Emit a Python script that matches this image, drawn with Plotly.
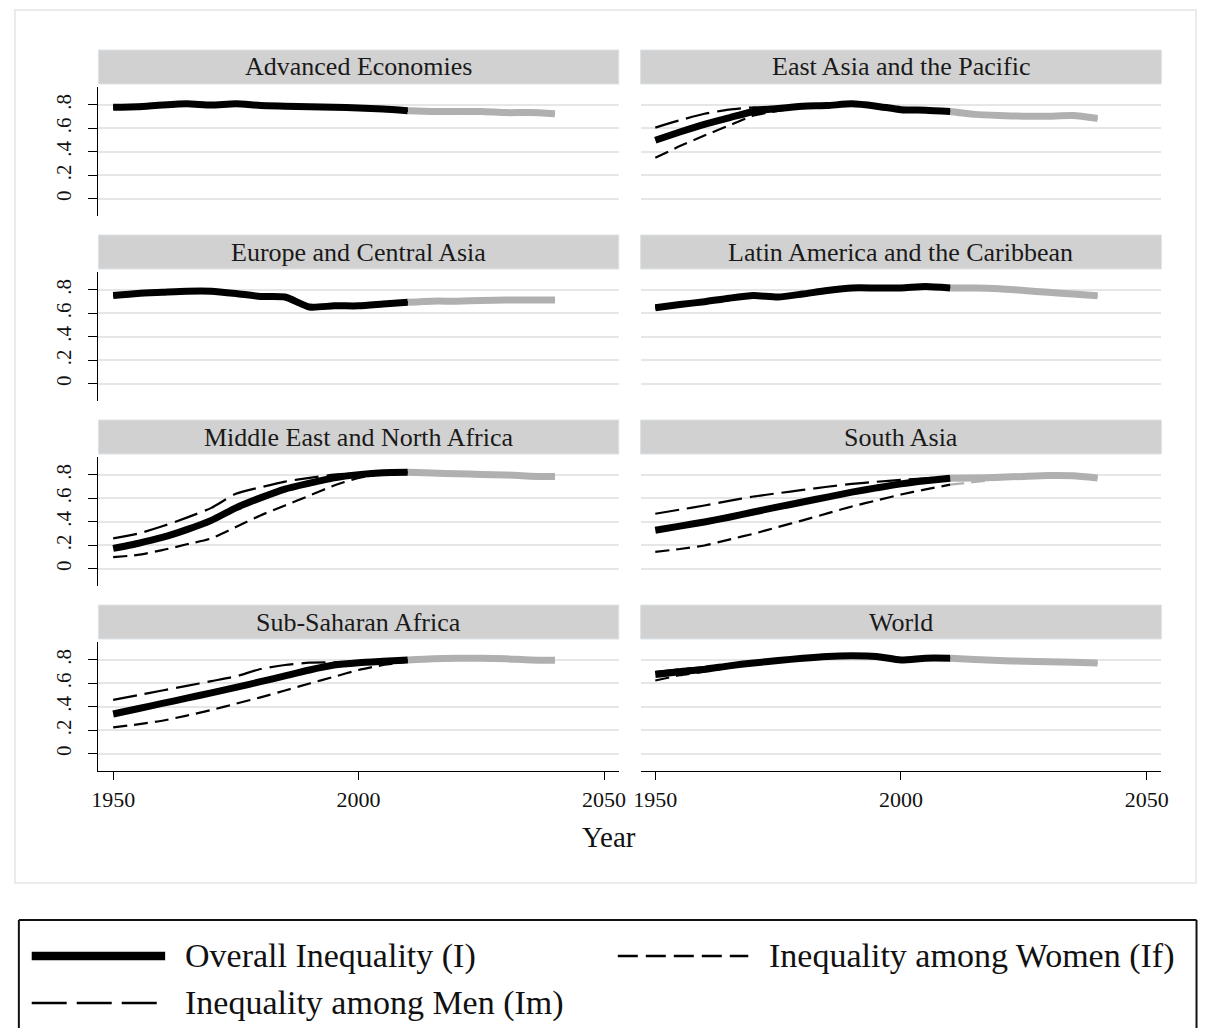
import plotly.graph_objects as go

W, H = 1205, 1028
FONT = "Liberation Serif"

# ---- data: five-year points, observed up to 2010, projected afterwards ----
years = [1950, 1955, 1960, 1965, 1970, 1975, 1980, 1985, 1990, 1995,
         2000, 2005, 2010, 2015, 2020, 2025, 2030, 2035, 2040]
last_observed = 2010

regions = ["Advanced Economies", "East Asia and the Pacific",
           "Europe and Central Asia", "Latin America and the Caribbean",
           "Middle East and North Africa", "South Asia",
           "Sub-Saharan Africa", "World"]

adv_overall = [.780, .785, .800, .810, .800, .810, .795, .790, .785, .780, .775, .765, .750, .745, .745, .745, .735, .735, .725]
adv_men     = [.790, .790, .805, .812, .805, .810, .800, .790, .785, .780, .775, .765, .750, .745, .745, .745, .735, .735, .725]
adv_women   = [.770, .780, .795, .805, .798, .805, .790, .786, .782, .780, .775, .765, .750, .745, .745, .745, .735, .735, .725]

eap_overall = [.500, .570, .635, .690, .745, .770, .790, .795, .810, .790, .760, .755, .745, .720, .710, .705, .705, .710, .685]
eap_men     = [.607, .670, .725, .760, .780, .785, .795, .800, .810, .790, .760, .755, .745, .720, .710, .705, .705, .710, .685]
eap_women   = [.350, .450, .540, .625, .710, .750, .780, .790, .805, .790, .760, .755, .745, .720, .710, .705, .705, .710, .685]

eca_overall = [.753, .770, .780, .790, .790, .770, .745, .740, .655, .665, .665, .680, .695, .705, .705, .710, .715, .715, .715]
eca_men     = [.758, .773, .783, .792, .792, .773, .748, .742, .658, .667, .667, .681, .696, .705, .705, .710, .715, .715, .715]
eca_women   = [.748, .767, .777, .788, .788, .767, .742, .738, .652, .663, .663, .679, .694, .705, .705, .710, .715, .715, .715]

lac_overall = [.648, .676, .700, .730, .752, .740, .766, .795, .817, .817, .817, .830, .817, .817, .810, .795, .780, .766, .750]
lac_men     = [.655, .680, .704, .733, .754, .742, .768, .796, .818, .817, .817, .830, .817, .817, .810, .795, .780, .766, .750]
lac_women   = [.640, .670, .696, .727, .750, .738, .764, .794, .816, .817, .817, .830, .817, .817, .810, .795, .780, .766, .750]

mena_overall = [.175, .217, .268, .335, .414, .520, .605, .680, .730, .775, .803, .820, .823, .817, .810, .805, .800, .790, .786]
mena_men     = [.260, .300, .363, .437, .520, .640, .695, .744, .775, .803, .815, .822, .823, .817, .810, .805, .800, .790, .786]
mena_women   = [.100, .120, .160, .210, .260, .357, .456, .540, .625, .710, .775, .810, .820, .817, .810, .805, .800, .790, .786]

sa_overall = [.330, .365, .400, .440, .485, .528, .570, .612, .654, .690, .724, .750, .772, .775, .780, .788, .795, .793, .775]
sa_men     = [.470, .505, .540, .580, .617, .645, .673, .700, .724, .742, .758, .772, .780, .778, .780, .788, .795, .793, .775]
sa_women   = [.146, .170, .200, .250, .300, .357, .414, .473, .532, .583, .634, .677, .718, .740, .763, .783, .795, .793, .775]

ssa_overall = [.340, .385, .430, .475, .520, .567, .615, .665, .715, .757, .777, .789, .800, .810, .815, .815, .810, .800, .797]
ssa_men     = [.460, .500, .540, .580, .620, .660, .723, .757, .777, .780, .785, .792, .800, .810, .815, .815, .810, .800, .797]
ssa_women   = [.226, .252, .283, .327, .374, .428, .482, .540, .600, .657, .715, .757, .786, .805, .815, .815, .810, .800, .797]

wld_overall = [.676, .700, .720, .750, .775, .795, .815, .830, .835, .830, .800, .815, .815, .805, .795, .790, .785, .780, .775]
wld_men     = [.700, .720, .740, .760, .780, .800, .815, .830, .835, .830, .800, .815, .815, .805, .795, .790, .785, .780, .775]
wld_women   = [.625, .670, .700, .735, .765, .790, .810, .830, .835, .830, .800, .815, .815, .805, .795, .790, .785, .780, .775]

panels = [
    (regions[0], adv_overall, adv_men, adv_women),
    (regions[1], eap_overall, eap_men, eap_women),
    (regions[2], eca_overall, eca_men, eca_women),
    (regions[3], lac_overall, lac_men, lac_women),
    (regions[4], mena_overall, mena_men, mena_women),
    (regions[5], sa_overall, sa_men, sa_women),
    (regions[6], ssa_overall, ssa_men, ssa_women),
    (regions[7], wld_overall, wld_men, wld_women),
]

y_ticks = [0, 0.2, 0.4, 0.6, 0.8]
y_tick_text = ["0", ".2", ".4", ".6", ".8"]
x_ticks = [1950, 2000, 2050]

legend_labels = ["Overall Inequality (I)", "Inequality among Men (Im)",
                 "Inequality among Women (If)"]

# ---- styling ----
HIST_COLOR = "#000000"
PROJ_COLOR = "#b0b0b0"
series_style = [
    dict(width=7, dash="solid"),            # overall
    dict(width=2.2, dash="24px,8px"),       # men
    dict(width=2.2, dash="14px,7px"),       # women
]

col_px = [(92.5, 619.0), (641.0, 1168.0)]
ROW_STEP = 185
PLOT_TOP, PLOT_BOT = 87, 216
HEAD_TOP, HEAD_BOT = 50, 84


def fx(px):
    return px / W


def fy(py):
    return 1 - py / H


fig = go.Figure()
shapes = []
annotations = []

hist_idx = [i for i, yr in enumerate(years) if yr <= last_observed]
proj_idx = [i for i, yr in enumerate(years) if yr >= last_observed]

for k, (name, *series) in enumerate(panels):
    row, col = divmod(k, 2)
    n = k + 1
    xa = "x" if n == 1 else f"x{n}"
    ya = "y" if n == 1 else f"y{n}"

    # projected part first (grey), then observed part (black)
    for s, vals in enumerate(series):
        st = series_style[s]
        fig.add_trace(go.Scatter(
            x=[years[i] for i in proj_idx], y=[vals[i] for i in proj_idx],
            mode="lines", xaxis=xa, yaxis=ya, hoverinfo="skip",
            line=dict(color=PROJ_COLOR, width=st["width"], dash=st["dash"],
                      shape="spline", smoothing=0.6)))
    for s, vals in enumerate(series):
        st = series_style[s]
        fig.add_trace(go.Scatter(
            x=[years[i] for i in hist_idx], y=[vals[i] for i in hist_idx],
            mode="lines", xaxis=xa, yaxis=ya, hoverinfo="skip",
            line=dict(color=HIST_COLOR, width=st["width"], dash=st["dash"],
                      shape="spline", smoothing=0.6)))

    x0, x1 = col_px[col]
    top = PLOT_TOP + ROW_STEP * row
    bot = PLOT_BOT + ROW_STEP * row
    bottom_row = row == 3
    left_col = col == 0

    xaxis = dict(
        domain=[fx(x0), fx(x1)], range=[1947.0, 2053.0], anchor=ya,
        showgrid=False, zeroline=False, fixedrange=True,
        tickvals=x_ticks, showticklabels=bottom_row,
        showline=bottom_row, linecolor="#000", linewidth=1.3,
        ticks="outside" if bottom_row else "", ticklen=8, tickwidth=1.3,
        tickcolor="#000", tickfont=dict(family=FONT, size=22, color="#111"),
    )
    yaxis = dict(
        domain=[fy(bot), fy(top)], range=[-0.145, 0.953], anchor=xa,
        showgrid=True, gridcolor="#e6e6e6", gridwidth=2, zeroline=False,
        fixedrange=True, tickvals=y_ticks, ticktext=y_tick_text,
        showticklabels=left_col, showline=left_col, linecolor="#000",
        linewidth=1.3, ticks="outside" if left_col else "", ticklen=9,
        tickwidth=1.3, tickcolor="#000", tickangle=-90,
        tickfont=dict(family=FONT, size=21, color="#111"),
        ticklabelstandoff=9,
    )
    fig.update_layout({f"xaxis{'' if n == 1 else n}": xaxis,
                       f"yaxis{'' if n == 1 else n}": yaxis})

    # panel header strip
    h0 = HEAD_TOP + ROW_STEP * row
    h1 = HEAD_BOT + ROW_STEP * row
    shapes.append(dict(type="rect", xref="paper", yref="paper",
                       x0=fx(x0), x1=fx(x1), y0=fy(h1), y1=fy(h0),
                       fillcolor="#d1d1d1", line=dict(color="#dce4e8", width=1),
                       layer="below"))
    annotations.append(dict(text=name, xref="paper", yref="paper",
                            x=fx((x0 + x1) / 2), y=fy((h0 + h1) / 2),
                            xanchor="center", yanchor="middle", showarrow=False,
                            font=dict(family=FONT, size=26, color="#1a1a1a")))

# x-axis title
annotations.append(dict(text="Year", xref="paper", yref="paper",
                        x=fx(609), y=fy(837), xanchor="center", yanchor="middle",
                        showarrow=False,
                        font=dict(family=FONT, size=29, color="#111")))

# outer graph frame
shapes.append(dict(type="rect", xref="paper", yref="paper",
                   x0=fx(8), x1=fx(1203), y0=fy(883), y1=fy(10),
                   line=dict(color="#ebebeb", width=2), layer="below"))

# legend box: top, left and right edges (its bottom edge lies below the page)
for (ax0, ay0, ax1, ay1) in [(12, 920, 1203.5, 920), (12, 920, 12, 1028),
                             (1203.5, 920, 1203.5, 1028)]:
    shapes.append(dict(type="line", xref="paper", yref="paper",
                       x0=fx(ax0), y0=fy(ay0), x1=fx(ax1), y1=fy(ay1),
                       line=dict(color="#111", width=2)))

legend_items = [
    (legend_labels[0], 25, 160, 956, 178, 8.5, "solid"),
    (legend_labels[2], 618, 750, 956, 769, 2.5, "20px,8px"),
    (legend_labels[1], 25, 160, 1003, 178, 2.5, "35px,10px"),
]
for label, lx0, lx1, ly, tx, lw, dash in legend_items:
    shapes.append(dict(type="line", xref="paper", yref="paper",
                       x0=fx(lx0), x1=fx(lx1), y0=fy(ly), y1=fy(ly),
                       line=dict(color="#000", width=lw, dash=dash)))
    annotations.append(dict(text=label, xref="paper", yref="paper",
                            x=fx(tx), y=fy(ly), xanchor="left", yanchor="middle",
                            showarrow=False,
                            font=dict(family=FONT, size=34, color="#111")))

fig.update_layout(
    width=W, height=H, autosize=False,
    margin=dict(l=0, r=0, t=0, b=0, pad=0),
    paper_bgcolor="white", plot_bgcolor="white",
    showlegend=False, shapes=shapes, annotations=annotations,
    font=dict(family=FONT, color="#111"),
)

fig.write_html("out.html", config={"displayModeBar": False})
